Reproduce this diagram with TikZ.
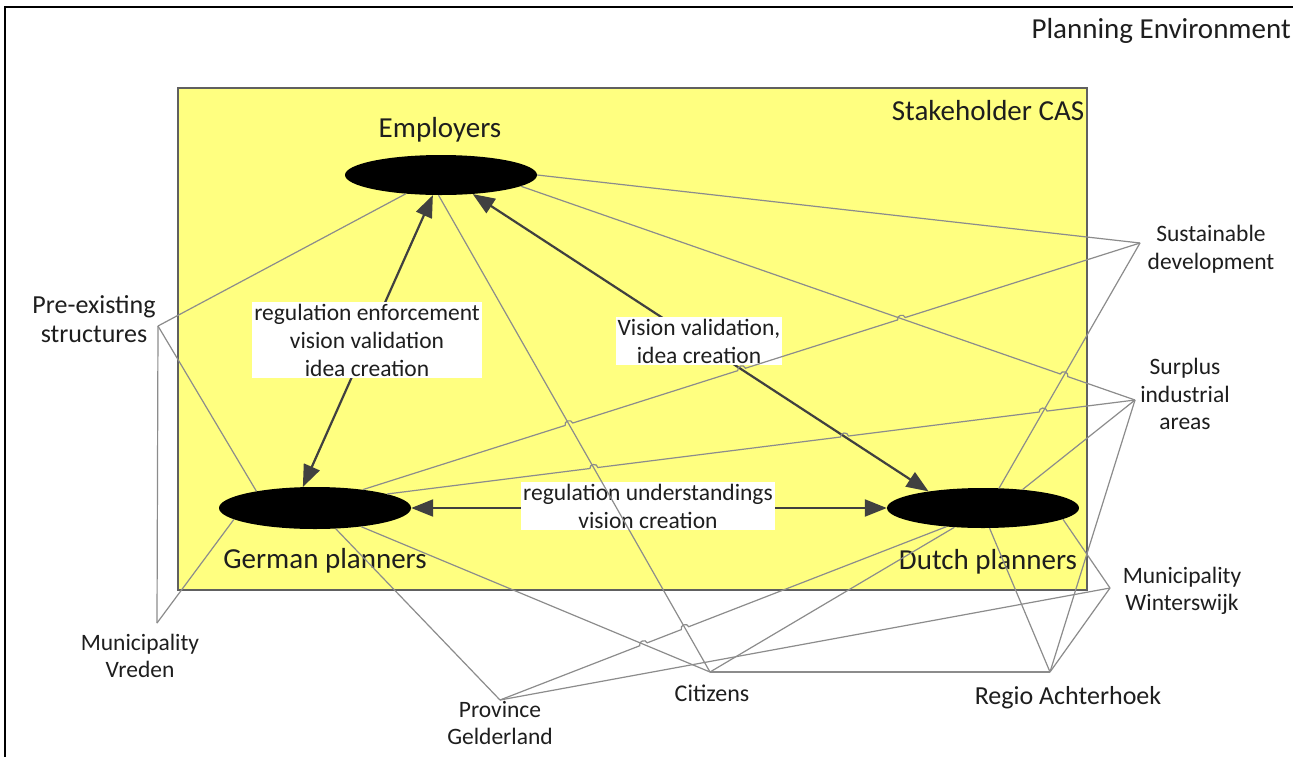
\documentclass[tikz,border=0pt]{standalone}
\usepackage{fontspec}
\setmainfont{Carlito}
\usetikzlibrary{arrows.meta,shapes.geometric,intersections,calc}
\definecolor{cas}{RGB}{255,255,128}
\definecolor{linkgray}{RGB}{140,140,140}
\definecolor{arrowgray}{RGB}{64,64,64}
\definecolor{txt}{RGB}{30,30,30}
\definecolor{casborder}{RGB}{96,96,96}
\begin{document}
\begin{tikzpicture}[x=1pt,y=-1pt,
  actor/.style={ellipse, fill=black, minimum width=192pt, minimum height=40pt, inner sep=0pt},
  biglabel/.style={font=\fontsize{29}{34}\selectfont, text=txt, inner sep=0pt},
  edgelabel/.style={fill=white, align=center, font=\fontsize{23.5}{28}\selectfont, inner xsep=2pt, inner ysep=2pt, text=txt},
  outer/.style={align=center, font=\fontsize{23.5}{27.5}\selectfont, text=txt, inner sep=0pt},
  link/.style={draw=linkgray, line width=1.2pt},
  hop/.style={bend left=90, looseness=1.5},
  flow/.style={draw=arrowgray, line width=2.2pt, {Triangle[length=22pt,width=17pt]}-{Triangle[length=22pt,width=17pt]}},
]
\useasboundingbox (0,0) rectangle (1293,756);
\clip (0,0) rectangle (1293,756);
\fill[white] (0,0) rectangle (1293,756);
% planning environment frame
\draw[line width=2pt, black] (5,7) rectangle (1320,780);
\node[biglabel, font=\fontsize{29}{33}\selectfont, anchor=east] (penv) at (1291,31) {Planning Environment};
% stakeholder CAS
\draw[fill=cas, draw=casborder, line width=1.6pt] (178,88) rectangle (1087,590);
\node[biglabel] (scas) at (988,111) {Stakeholder CAS};

% actors
\node[actor] (emp) at (441,175) {};
\node[actor, minimum height=42pt] (ger) at (315,508) {};
\node[actor] (dut) at (983,508) {};
\node[biglabel] (empl) at (440,130) {Employers};
\node[biglabel] (gerl) at (325,561) {German planners};
\node[biglabel] (dutl) at (988,562) {Dutch planners};

% outer anchor points
\coordinate (pre) at (158,326);
\coordinate (vre) at (157,623);
\coordinate (sus) at (1140,243);
\coordinate (sur) at (1135,400);
\coordinate (win) at (1110,588);
\coordinate (reg) at (1050,672);
\coordinate (cit) at (710,672);
\coordinate (pro) at (500,700);

% outer labels
\node[outer, font=\fontsize{26}{29}\selectfont] (prel) at (94,319) {Pre-existing\\structures};
\node[outer] (vrel) at (140,656) {Municipality\\Vreden};
\node[outer] (susl) at (1211,249) {Sustainable\\development};
\node[outer] (surl) at (1185,394) {Surplus\\industrial\\areas};
\node[outer] (winl) at (1182,591) {Municipality\\Winterswijk};
\node[outer, font=\fontsize{26}{29}\selectfont] (regl) at (1068,698) {Regio Achterhoek};
\node[outer, font=\fontsize{24}{28}\selectfont] (citl) at (712,693) {Citizens};
\node[outer] (prol) at (500,723) {Province\\Gelderland};

% flows between actors
\draw[flow] (ger.120) -- (emp.-112);
\draw[flow, name path=a2] (dut.163) -- (emp.-31);
\draw[flow] (ger.east) -- (dut.west);

% flow labels
\node[edgelabel] (lab1) at (367,340) {regulation enforcement\\vision validation\\idea creation};
\node[edgelabel] (lab2) at (699,341) {Vision validation,\\idea creation};
\node[edgelabel] (lab3) at (648,506) {regulation understandings\\vision creation};

% plain links
\draw[link] (emp) -- (pre);
\draw[link, name path=e2] (emp.-97) -- (cit);
\draw[link] (emp.east) -- (sus);
\draw[link] (ger.164) -- (pre);
\draw[link] (ger.188) -- (vre);
\draw[link] (ger.-45) -- (pro);
\draw[link, name path=g4] (ger.-22) -- (cit);
\draw[link, name path=d1] (dut.51) -- (sus);
\draw[link] (dut.25) -- (sur);
\draw[link] (dut.-8) -- (win);
\draw[link] (dut.-72) -- (reg);
\draw[link] (dut.-146) -- (cit);
\draw[link] (pre) -- (vre);
\draw[link] (pro) -- (win);
\draw[link] (cit) -- (reg);
\draw[link] (reg) -- (win);
\draw[link] (reg) -- (sur);

% links with line jumps
\path[name path=e4] (emp.-8) -- (sur);
\path[name path=g1] (ger.21) -- (sus);
\path[name path=g2] (ger.11) -- (sur);
\path[name path=d5] (pro) -- (dut.-153);
\path[name intersections={of=g1 and e2, by=h11}];
\path[name intersections={of=g1 and a2, by=h12}];
\path[name intersections={of=g1 and e4, by=h13}];
\path[name intersections={of=g2 and e2, by=h21}];
\path[name intersections={of=g2 and a2, by=h22}];
\path[name intersections={of=g2 and d1, by=h23}];
\path[name intersections={of=e4 and d1, by=h31}];
\path[name intersections={of=d5 and g4, by=h41}];
\path[name intersections={of=d5 and e2, by=h42}];

\draw[link] (emp.-8) -- ($(h31)!4pt!(emp.-8)$) to[hop] ($(h31)!4pt!(sur)$) -- (sur);
\draw[link] (ger.21) -- ($(h11)!4pt!(ger.21)$) to[hop] ($(h11)!4pt!(sus)$)
  -- ($(h12)!4pt!(ger.21)$) to[hop] ($(h12)!4pt!(sus)$)
  -- ($(h13)!4pt!(ger.21)$) to[hop] ($(h13)!4pt!(sus)$) -- (sus);
\draw[link] (ger.11) -- ($(h21)!4pt!(ger.11)$) to[hop] ($(h21)!4pt!(sur)$)
  -- ($(h22)!4pt!(ger.11)$) to[hop] ($(h22)!4pt!(sur)$)
  -- ($(h23)!4pt!(ger.11)$) to[hop] ($(h23)!4pt!(sur)$) -- (sur);
\draw[link] (pro) -- ($(h41)!4pt!(pro)$) to[hop] ($(h41)!4pt!(dut.-153)$)
  -- ($(h42)!4pt!(pro)$) to[hop] ($(h42)!4pt!(dut.-153)$) -- (dut.-153);
\end{tikzpicture}
\end{document}
